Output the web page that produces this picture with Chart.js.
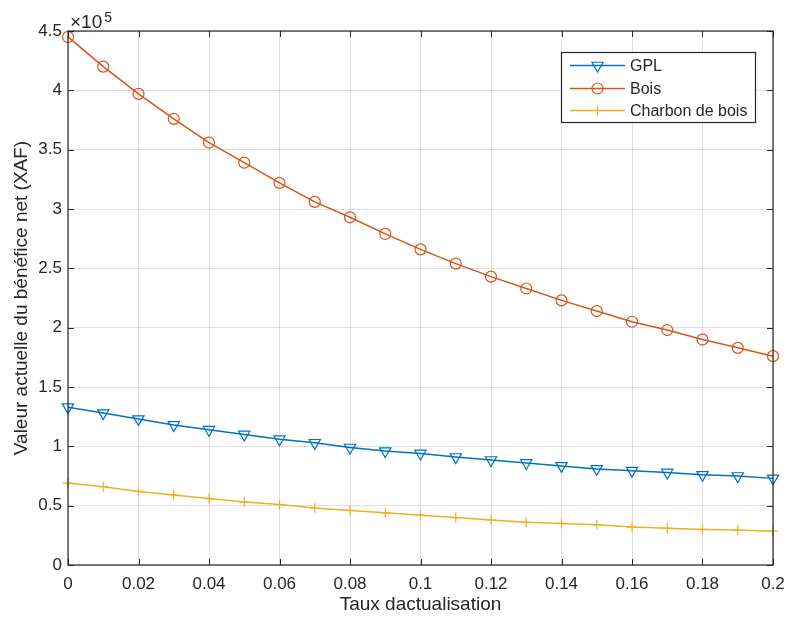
<!DOCTYPE html>
<html>
<head>
<meta charset="utf-8">
<script src="https://cdn.jsdelivr.net/npm/chart.js@4/dist/chart.umd.min.js"></script>
<style>
  html, body { margin: 0; padding: 0; background: #ffffff; }
  #wrap { width: 788px; height: 621px; position: relative; }
</style>
</head>
<body>
<div id="wrap"><canvas id="c"></canvas></div>
<script>
// ---- data (values in XAF) ----
const rates = [0, 0.01, 0.02, 0.03, 0.04, 0.05, 0.06, 0.07, 0.08, 0.09, 0.10,
               0.11, 0.12, 0.13, 0.14, 0.15, 0.16, 0.17, 0.18, 0.19, 0.20];
const gpl = [133000, 128000, 123000, 118000, 114000, 110000, 106000, 103000, 99000, 96000, 94000,
             91000, 88500, 86000, 83500, 81000, 79500, 78000, 76000, 75000, 73000];
const bois = [445000, 420000, 397000, 376000, 356000, 339000, 322000, 306000, 293000, 279000, 266000,
              254000, 243000, 233000, 223000, 214000, 205000, 198000, 190000, 183000, 176000];
const charbon = [69000, 66000, 62000, 59000, 56000, 53000, 51000, 48000, 46000, 44000, 42000,
                 40000, 38000, 36000, 35000, 34000, 32000, 31000, 30000, 29500, 28500];
const seriesNames = ['GPL', 'Bois', 'Charbon de bois'];
const xTitle = 'Taux dactualisation';
const yTitle = 'Valeur actuelle du bénéfice net (XAF)';
const yTickLabels = ['0', '0.5', '1', '1.5', '2', '2.5', '3', '3.5', '4', '4.5'];
const xTickLabels = ['0', '0.02', '0.04', '0.06', '0.08', '0.1', '0.12', '0.14', '0.16', '0.18', '0.2'];
const exponentLabel = ['×10', '5'];

const colors = ['#0072BD', '#D95319', '#EDB120'];
const styles = [
  { pointStyle: 'triangle', rotation: 180, radius: 6.5 },
  { pointStyle: 'circle', rotation: 0, radius: 5.5 },
  { pointStyle: 'cross', rotation: 0, radius: 5 }
];
const axisColor = '#262626';
const FONT = 'Liberation Sans, Arial, Helvetica, sans-serif';

function pts(arr) { return rates.map((r, i) => ({ x: r, y: arr[i] })); }

const datasets = [gpl, bois, charbon].map((arr, k) => ({
  label: seriesNames[k],
  data: pts(arr),
  borderColor: colors[k],
  backgroundColor: 'rgba(0,0,0,0)',
  pointBackgroundColor: 'rgba(0,0,0,0)',
  pointBorderColor: colors[k],
  pointStyle: styles[k].pointStyle,
  pointRotation: styles[k].rotation,
  pointRadius: styles[k].radius,
  pointHoverRadius: styles[k].radius,
  pointBorderWidth: 1.2,
  borderWidth: 1.5,
  tension: 0,
  fill: false,
  clip: false
}));

const decorPlugin = {
  id: 'decor',
  afterDraw(chart) {
    const ctx = chart.ctx;
    const a = chart.chartArea;
    const xs = chart.scales.x, ys = chart.scales.y;
    ctx.save();
    // box
    ctx.strokeStyle = axisColor;
    ctx.lineWidth = 1.2;
    ctx.strokeRect(a.left, a.top, a.right - a.left, a.bottom - a.top);
    // inward ticks
    const tl = 6;
    ctx.lineWidth = 1;
    ctx.beginPath();
    xs.ticks.forEach(t => {
      const px = Math.round(xs.getPixelForValue(t.value)) + 0.5;
      ctx.moveTo(px, a.bottom); ctx.lineTo(px, a.bottom - tl);
      ctx.moveTo(px, a.top); ctx.lineTo(px, a.top + tl);
    });
    ys.ticks.forEach(t => {
      const py = Math.round(ys.getPixelForValue(t.value)) + 0.5;
      ctx.moveTo(a.left, py); ctx.lineTo(a.left + tl, py);
      ctx.moveTo(a.right, py); ctx.lineTo(a.right - tl, py);
    });
    ctx.stroke();
    // exponent
    ctx.fillStyle = axisColor;
    ctx.textBaseline = 'alphabetic';
    ctx.textAlign = 'left';
    ctx.font = '19px ' + FONT;
    ctx.fillText(exponentLabel[0], a.left + 2, 28);
    const w = ctx.measureText(exponentLabel[0]).width;
    ctx.font = '14px ' + FONT;
    ctx.fillText(exponentLabel[1], a.left + 2 + w + 2, 22);
    // legend
    const lx = 561, ly = 52, lw = 194, lh = 70;
    ctx.fillStyle = '#ffffff';
    ctx.fillRect(lx, ly, lw, lh);
    ctx.strokeStyle = axisColor;
    ctx.lineWidth = 1.2;
    ctx.strokeRect(lx + 0.5, ly + 0.5, lw, lh);
    const rowsY = [65.5, 88.5, 110.5];
    chart.data.datasets.forEach((ds, k) => {
      const y = rowsY[k];
      ctx.strokeStyle = ds.borderColor;
      ctx.lineWidth = 1.5;
      ctx.beginPath();
      ctx.moveTo(570, y); ctx.lineTo(625, y);
      ctx.stroke();
      ctx.fillStyle = 'rgba(0,0,0,0)';
      ctx.lineWidth = 1.2;
      Chart.helpers.drawPoint(ctx, {
        pointStyle: ds.pointStyle, radius: ds.pointRadius,
        rotation: ds.pointRotation, borderWidth: 1.2
      }, 597.5, y);
      ctx.fillStyle = axisColor;
      ctx.font = '16px ' + FONT;
      ctx.textBaseline = 'middle';
      ctx.fillText(ds.label, 630, y + 1);
    });
    ctx.restore();
  }
};

new Chart(document.getElementById('c'), {
  type: 'line',
  data: { datasets },
  plugins: [decorPlugin],
  options: {
    responsive: true,
    maintainAspectRatio: false,
    animation: false,
    events: [],
    layout: { padding: { left: 0, right: 15, top: 31, bottom: 0 } },
    plugins: { legend: { display: false }, tooltip: { enabled: false } },
    scales: {
      x: {
        type: 'linear',
        min: 0, max: 0.2,
        afterFit(scale) {
          scale.height = 56;
          scale.paddingLeft = 0; scale.paddingRight = 0;
        },
        afterBuildTicks(scale) {
          scale.ticks = xTickLabels.map(s => ({ value: parseFloat(s) }));
        },
        ticks: {
          autoSkip: false,
          maxRotation: 0,
          padding: 9,
          color: axisColor,
          font: { family: FONT, size: 17 },
          callback: (v, i) => xTickLabels[i]
        },
        grid: { color: 'rgba(38,38,38,0.15)', lineWidth: 1, drawTicks: false },
        border: { display: false },
        title: {
          display: true, text: xTitle, color: axisColor,
          font: { family: FONT, size: 19 }, padding: { top: 0, bottom: 5 }
        }
      },
      y: {
        type: 'linear',
        min: 0, max: 450000,
        afterFit(scale) {
          scale.width = 68;
          scale.paddingTop = 0; scale.paddingBottom = 0;
        },
        afterBuildTicks(scale) {
          scale.ticks = yTickLabels.map(s => ({ value: parseFloat(s) * 1e5 }));
        },
        ticks: {
          autoSkip: false,
          padding: 6,
          color: axisColor,
          font: { family: FONT, size: 17 },
          callback: (v, i) => yTickLabels[i]
        },
        grid: { color: 'rgba(38,38,38,0.15)', lineWidth: 1, drawTicks: false },
        border: { display: false },
        title: {
          display: true, text: yTitle, color: axisColor,
          font: { family: FONT, size: 19 }, padding: { top: 10, bottom: 0 }
        }
      }
    }
  }
});
</script>
</body>
</html>
